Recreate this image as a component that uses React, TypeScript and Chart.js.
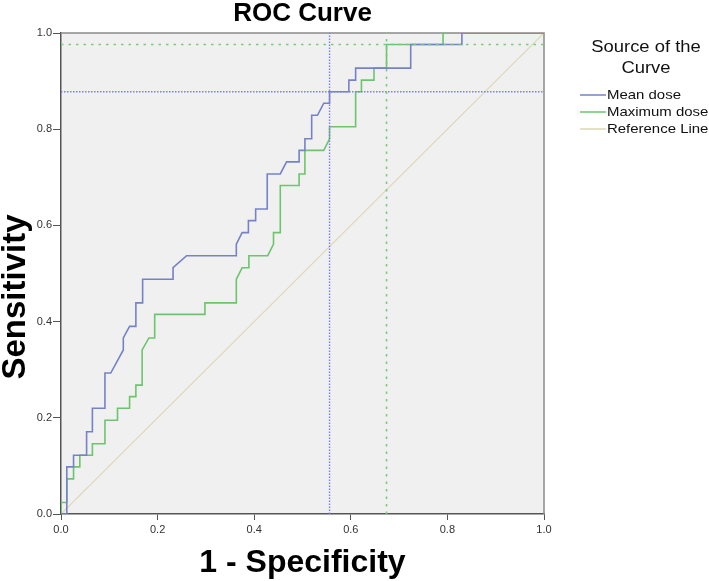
import React, { useEffect, useRef } from "react";
import { Chart, registerables } from "chart.js";

Chart.register(...registerables);

// ---- Data ----
const meanFpr = [0, 0.012, 0.012, 0.026, 0.026, 0.053, 0.053, 0.065, 0.065, 0.091, 0.091, 0.103, 0.129, 0.129, 0.142, 0.155, 0.155, 0.169, 0.169, 0.232, 0.232, 0.26, 0.363, 0.363, 0.375, 0.388, 0.388, 0.403, 0.403, 0.427, 0.427, 0.454, 0.467, 0.493, 0.493, 0.505, 0.505, 0.519, 0.519, 0.531, 0.544, 0.556, 0.556, 0.596, 0.596, 0.61, 0.61, 0.724, 0.724, 0.83, 0.83, 1];
const meanTpr = [0, 0, 0.098, 0.098, 0.122, 0.122, 0.171, 0.171, 0.22, 0.22, 0.293, 0.293, 0.341, 0.366, 0.39, 0.39, 0.439, 0.439, 0.488, 0.488, 0.512, 0.537, 0.537, 0.561, 0.585, 0.585, 0.61, 0.61, 0.634, 0.634, 0.707, 0.707, 0.732, 0.732, 0.756, 0.756, 0.78, 0.78, 0.829, 0.829, 0.854, 0.854, 0.878, 0.878, 0.902, 0.902, 0.927, 0.927, 0.976, 0.976, 1, 1];

const maxFpr = [0, 0, 0.012, 0.012, 0.026, 0.026, 0.039, 0.039, 0.065, 0.065, 0.091, 0.091, 0.117, 0.117, 0.142, 0.142, 0.155, 0.155, 0.168, 0.168, 0.182, 0.194, 0.194, 0.298, 0.298, 0.363, 0.363, 0.375, 0.389, 0.389, 0.428, 0.44, 0.44, 0.454, 0.454, 0.493, 0.493, 0.505, 0.505, 0.544, 0.556, 0.556, 0.61, 0.61, 0.622, 0.622, 0.648, 0.648, 0.674, 0.674, 0.791, 0.791, 1];
const maxTpr = [0, 0.024, 0.024, 0.073, 0.073, 0.098, 0.098, 0.122, 0.122, 0.146, 0.146, 0.195, 0.195, 0.22, 0.22, 0.244, 0.244, 0.268, 0.268, 0.341, 0.366, 0.366, 0.415, 0.415, 0.439, 0.439, 0.488, 0.512, 0.512, 0.537, 0.537, 0.561, 0.585, 0.585, 0.683, 0.683, 0.707, 0.707, 0.756, 0.756, 0.78, 0.805, 0.805, 0.878, 0.878, 0.902, 0.902, 0.927, 0.927, 0.976, 0.976, 1, 1];

const refX = [0, 1];
const refY = [0, 1];

// optimal cut-off guide lines: [fpr, tpr]
const meanCutoff = [0.556, 0.878];
const maxCutoff = [0.674, 0.976];

const tickValues = [0, 0.2, 0.4, 0.6, 0.8, 1.0];
const seriesLabels = ["Mean dose", "Maximum dose", "Reference Line"];
const legendTitle = ["Source of the", "Curve"];
const chartTitle = "ROC Curve";
const xTitle = "1 - Specificity";
const yTitle = "Sensitivity";

const BLUE = "#7582c6";
const GREEN = "#6cc56c";
const REF = "#ddd7b6";
const BLUE_DOT = "#7b7bf2";
const GREEN_DOT = "#7ccb7c";
const FONT = "'Liberation Sans', Arial, sans-serif";

const toPoints = (xs: number[], ys: number[]) => xs.map((x, i) => ({ x, y: ys[i] }));

const plotBg = {
  id: "plotBg",
  beforeDraw(chart: any) {
    const { ctx, chartArea: a } = chart;
    ctx.save();
    ctx.fillStyle = "#f0f0f0";
    ctx.fillRect(a.left, a.top, a.right - a.left, a.bottom - a.top);
    ctx.restore();
  },
  beforeDatasetsDraw(chart: any) {
    const { ctx, chartArea: a } = chart;
    ctx.save();
    ctx.strokeStyle = "#8a8a8a";
    ctx.lineWidth = 1.5;
    ctx.beginPath();
    ctx.moveTo(a.left, a.top);
    ctx.lineTo(a.right, a.top);
    ctx.lineTo(a.right, a.bottom);
    ctx.stroke();
    ctx.restore();
  },
};

const yAxisTitle = {
  id: "yAxisTitle",
  afterDraw(chart: any) {
    const { ctx } = chart;
    ctx.save();
    ctx.translate(16, 297);
    ctx.rotate(-Math.PI / 2);
    ctx.fillStyle = "#000";
    ctx.font = `bold 33px ${FONT}`;
    ctx.textAlign = "center";
    ctx.textBaseline = "middle";
    ctx.fillText(yTitle, 0, 0);
    ctx.restore();
  },
};

const sideLegend = {
  id: "sideLegend",
  afterDraw(chart: any) {
    const { ctx } = chart;
    const sx = 1.15;
    ctx.save();
    ctx.fillStyle = "#111";
    ctx.textBaseline = "middle";
    ctx.textAlign = "center";
    ctx.font = `16px ${FONT}`;
    const cx = 646;
    legendTitle.forEach((t, i) => {
      ctx.save();
      ctx.translate(cx, 48 + i * 21);
      ctx.scale(sx, 1);
      ctx.fillText(t, 0, 0);
      ctx.restore();
    });
    ctx.textAlign = "left";
    ctx.font = `13px ${FONT}`;
    seriesLabels.forEach((lab, i) => {
      const d = chart.data.datasets.find((e: any) => e.label === lab);
      if (!d) return;
      const y = 95 + i * 17;
      ctx.strokeStyle = d.borderColor;
      ctx.lineWidth = 1.5;
      ctx.beginPath();
      ctx.moveTo(580, y);
      ctx.lineTo(606, y);
      ctx.stroke();
      ctx.fillStyle = "#111";
      ctx.save();
      ctx.translate(607, y);
      ctx.scale(sx, 1);
      ctx.fillText(d.label, 0, 0);
      ctx.restore();
    });
    ctx.restore();
  },
};

export default function App() {
  const ref = useRef<HTMLCanvasElement>(null);
  useEffect(() => {
    if (!ref.current) return;
    const line = (label: string, pts: any[], color: string, width: number, extra: any = {}) => ({
      type: "scatter" as const,
      label,
      data: pts,
      showLine: true,
      borderColor: color,
      backgroundColor: color,
      borderWidth: width,
      pointRadius: 0,
      pointHoverRadius: 0,
      fill: false,
      tension: 0,
      ...extra,
    });
    const chart = new Chart(ref.current, {
      type: "scatter",
      data: {
        datasets: [
          line(seriesLabels[2], toPoints(refX, refY), REF, 1.2, { order: 5 }),
          line(seriesLabels[1], toPoints(maxFpr, maxTpr), GREEN, 1.6, { order: 4 }),
          line(seriesLabels[0], toPoints(meanFpr, meanTpr), BLUE, 1.6, { order: 3 }),
          line("mean cut-off h", [{ x: 0, y: meanCutoff[1] }, { x: 1, y: meanCutoff[1] }], BLUE_DOT, 1.4, { borderDash: [1.5, 1.5], order: 2 }),
          line("mean cut-off v", [{ x: meanCutoff[0], y: 0 }, { x: meanCutoff[0], y: 1 }], BLUE_DOT, 1.4, { borderDash: [1.5, 1.5], order: 2 }),
          line("max cut-off h", [{ x: 0, y: maxCutoff[1] }, { x: 1, y: maxCutoff[1] }], GREEN_DOT, 1.6, { borderDash: [2.5, 5], order: 1 }),
          line("max cut-off v", [{ x: maxCutoff[0], y: 0 }, { x: maxCutoff[0], y: 1 }], GREEN_DOT, 1.6, { borderDash: [2.5, 5], order: 1 }),
        ],
      },
      options: {
        responsive: false,
        animation: false,
        events: [],
        layout: { padding: 0 },
        plugins: {
          legend: { display: false },
          tooltip: { enabled: false },
          title: {
            display: true,
            fullSize: false,
            text: chartTitle,
            color: "#000",
            font: { family: FONT, size: 26, weight: "bold", lineHeight: 28 / 26 },
            padding: { top: 0, bottom: 5 },
          },
        },
        scales: {
          x: {
            type: "linear",
            position: "bottom",
            min: 0,
            max: 1,
            afterBuildTicks: (s: any) => { s.ticks = tickValues.map((v) => ({ value: v })); },
            afterFit: (s: any) => { s.height = 67; },
            ticks: { font: { family: FONT, size: 11 }, color: "#333", padding: 3, maxRotation: 0, callback: (v: any) => Number(v).toFixed(1) },
            grid: { display: true, drawOnChartArea: false, drawTicks: true, tickLength: 6, color: "#555" },
            border: { display: true, color: "#555", width: 1.5 },
            title: { display: true, text: xTitle, color: "#000", font: { family: FONT, size: 32, weight: "bold", lineHeight: 1 }, padding: { top: 0, bottom: 2 } },
          },
          y: {
            type: "linear",
            position: "left",
            min: 0,
            max: 1,
            afterBuildTicks: (s: any) => { s.ticks = tickValues.map((v) => ({ value: v })); },
            afterFit: (s: any) => { s.width = 61; },
            ticks: { font: { family: FONT, size: 11 }, color: "#333", padding: 1, callback: (v: any) => Number(v).toFixed(1) },
            grid: { display: true, drawOnChartArea: false, drawTicks: true, tickLength: 8, color: "#555" },
            border: { display: true, color: "#555", width: 1.5 },
            title: { display: false },
          },
          legendSpace: {
            type: "linear",
            position: "right",
            display: true,
            afterFit: (s: any) => { s.width = 165; },
            ticks: { display: false },
            grid: { display: false },
            border: { display: false },
          },
        },
      } as any,
      plugins: [plotBg, yAxisTitle, sideLegend],
    });
    return () => chart.destroy();
  }, []);
  return (
    <div style={{ position: "absolute", left: 0, top: 0, width: 709, height: 581, background: "#fff" }}>
      <canvas ref={ref} width={709} height={581} style={{ display: "block" }} />
    </div>
  );
}
